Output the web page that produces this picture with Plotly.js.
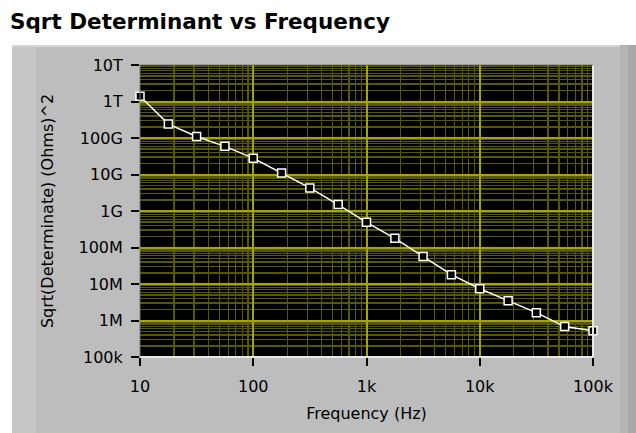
<!DOCTYPE html>
<html>
<head>
<meta charset="utf-8">
<script src="https://cdn.plot.ly/plotly-3.0.1.min.js"></script>
<style>html,body{margin:0;padding:0;background:#bdbdbd;overflow:hidden}#chart{width:636px;height:433px}</style>
</head>
<body>
<div id="chart"></div>
<script>
// Data
const frequencyHz = [10, 17.8, 31.6, 56.2, 100, 178, 316, 562, 1000, 1780, 3160, 5620, 10000, 17800, 31600, 56200, 100000];
const sqrtDet = [1.4e12, 2.4e11, 1.1e11, 5.9e10, 2.8e10, 1.1e10, 4.3e9, 1.5e9, 4.9e8, 1.78e8, 5.7e7, 1.8e7, 7.4e6, 3.5e6, 1.64e6, 6.8e5, 5.2e5];
const xTickVals = [10, 100, 1000, 10000, 100000];
const xTickText = ["10", "100", "1k", "10k", "100k"];
const yTickVals = [1e5, 1e6, 1e7, 1e8, 1e9, 1e10, 1e11, 1e12, 1e13];
const yTickText = ["100k", "1M", "10M", "100M", "1G", "10G", "100G", "1T", "10T"];

const W = 636, H = 433;
const L = 140, R = 43, T = 65, B = 76;
const pw = W - L - R, ph = H - T - B;
const px = p => (p - L) / pw;
const py = q => (H - B - q) / ph;

const font = "DejaVu Sans, Verdana, sans-serif";

const trace = {
  x: frequencyHz, y: sqrtDet, type: 'scatter', mode: 'lines+markers',
  line: {color: '#ffffff', width: 1.5},
  marker: {symbol: 'square', size: 8, color: '#000000', line: {color: '#ffffff', width: 1.5}},
  hoverinfo: 'skip', cliponaxis: false
};

const majorGrid = 'rgb(165,165,0)';
const minorGrid = 'rgb(88,88,0)';

const layout = {
  width: W, height: H,
  margin: {l: L, r: R, t: T, b: B, pad: 0},
  paper_bgcolor: '#bdbdbd',
  plot_bgcolor: '#000000',
  showlegend: false,
  title: {text: '<b>Sqrt Determinant vs Frequency</b>', x: 10 / W, xanchor: 'left', y: 1 - 21 / H, yanchor: 'middle',
          font: {family: font, size: 21.5, color: '#000'}},
  xaxis: {
    type: 'log', range: [1, 5], tickvals: xTickVals, ticktext: xTickText,
    ticks: 'outside', ticklen: 8, tickwidth: 2, tickcolor: '#000', ticklabelstandoff: 7,
    showgrid: true, gridcolor: majorGrid, gridwidth: 2,
    minor: {dtick: 'D1', showgrid: true, gridcolor: minorGrid, gridwidth: 1.2, ticks: ''},
    zeroline: false, showline: false,
    tickfont: {family: font, size: 16, color: '#000'},
    title: {text: 'Frequency (Hz)', font: {family: font, size: 16, color: '#000'}, standoff: 12}
  },
  yaxis: {
    type: 'log', range: [5, 13], tickvals: yTickVals, ticktext: yTickText,
    ticks: 'outside', ticklen: 8, tickwidth: 2, tickcolor: '#000', ticklabelstandoff: 5,
    showgrid: true, gridcolor: majorGrid, gridwidth: 2,
    minor: {dtick: 'D1', showgrid: true, gridcolor: minorGrid, gridwidth: 1.2, ticks: ''},
    zeroline: false, showline: false,
    tickfont: {family: font, size: 16, color: '#000'},
    title: {text: 'Sqrt(Determinate) (Ohms)^2', font: {family: font, size: 16, color: '#000'}, standoff: 20}
  },
  shapes: [
    // white page area above and left of the gray panel
    {type: 'rect', xref: 'paper', yref: 'paper', x0: px(0), x1: px(W), y0: py(45), y1: py(0), fillcolor: '#ffffff', line: {width: 0}, layer: 'below'},
    {type: 'rect', xref: 'paper', yref: 'paper', x0: px(0), x1: px(12), y0: py(H), y1: py(45), fillcolor: '#ffffff', line: {width: 0}, layer: 'below'},
    // lighter strip on the left of the panel
    {type: 'rect', xref: 'paper', yref: 'paper', x0: px(12), x1: px(36), y0: py(H), y1: py(45), fillcolor: '#c6c6c6', line: {width: 0}, layer: 'below'},
    {type: 'rect', xref: 'paper', yref: 'paper', x0: px(12), x1: px(W), y0: py(47), y1: py(45), fillcolor: '#d4d4d4', line: {width: 0}, layer: 'below'},
    // darker right edge
    {type: 'rect', xref: 'paper', yref: 'paper', x0: px(620), x1: px(628), y0: py(H), y1: py(45), fillcolor: '#b4b4b4', line: {width: 0}, layer: 'below'},
    {type: 'rect', xref: 'paper', yref: 'paper', x0: px(628), x1: px(W), y0: py(H), y1: py(45), fillcolor: '#a8a8a8', line: {width: 0}, layer: 'below'},
    // plot frame
    {type: 'line', xref: 'paper', yref: 'paper', x0: 0, x1: 1, y0: 0, y1: 0, line: {color: '#e8e8e8', width: 2}},
    {type: 'line', xref: 'paper', yref: 'paper', x0: 1, x1: 1, y0: 0, y1: 1, line: {color: '#e8e8e8', width: 2}},
    {type: 'line', xref: 'paper', yref: 'paper', x0: 0, x1: 1, y0: 1, y1: 1, line: {color: '#7a7a7a', width: 1}},
    {type: 'line', xref: 'paper', yref: 'paper', x0: 0, x1: 0, y0: 0, y1: 1, line: {color: '#7a7a7a', width: 1}}
  ]
};

Plotly.newPlot('chart', [trace], layout, {staticPlot: true, displayModeBar: false});
</script>
</body>
</html>
